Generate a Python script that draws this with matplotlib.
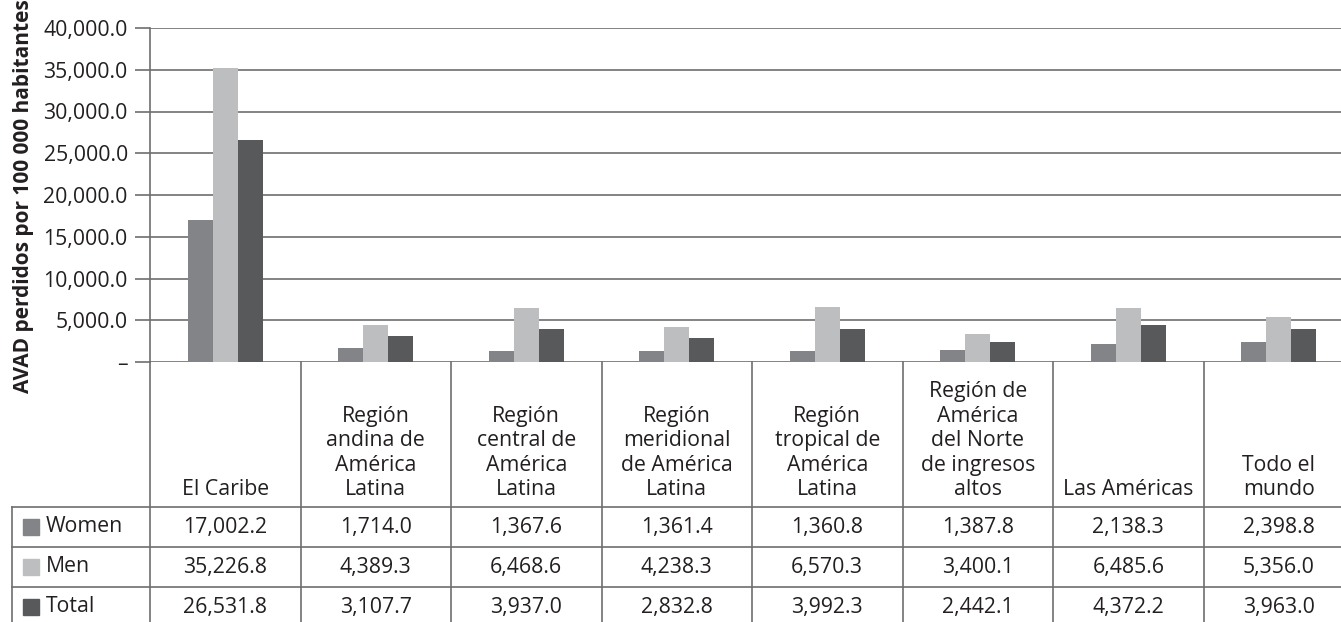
import matplotlib.pyplot as plt
import numpy as np

plt.rcParams['font.family'] = ['Open Sans', 'DejaVu Sans']

regiones = ['El Caribe',
            'Región\nandina de\nAmérica\nLatina',
            'Región\ncentral de\nAmérica\nLatina',
            'Región\nmeridional\nde América\nLatina',
            'Región\ntropical de\nAmérica\nLatina',
            'Región de\nAmérica\ndel Norte\nde ingresos\naltos',
            'Las Américas',
            'Todo el\nmundo']
series = ['Women', 'Men', 'Total']
women = [17002.2, 1714.0, 1367.6, 1361.4, 1360.8, 1387.8, 2138.3, 2398.8]
men = [35226.8, 4389.3, 6468.6, 4238.3, 6570.3, 3400.1, 6485.6, 5356.0]
total = [26531.8, 3107.7, 3937.0, 2832.8, 3992.3, 2442.1, 4372.2, 3963.0]
colores = ['#838487', '#bcbec0', '#58595b']
yticks = [0, 5000, 10000, 15000, 20000, 25000, 30000, 35000, 40000]

W, H = 1341, 622
linea = '#6e6e6e'
texto = '#231f20'
fs = 15.3

fig = plt.figure(figsize=(W / 100, H / 100), dpi=100)
ax = fig.add_axes([150 / W, (H - 362) / H, 1204 / W, 334 / H])

x = np.arange(len(regiones))
ancho = 0.166
for i, vals in enumerate([women, men, total]):
    ax.bar(x + (i - 1) * ancho, vals, ancho, color=colores[i], zorder=3)

ax.set_xlim(-0.5, len(regiones) - 0.5)
ax.set_ylim(0, 40000)
ax.set_yticks(yticks)
ax.set_yticklabels(['–' if v == 0 else f'{v:,.1f}' for v in yticks],
                   fontsize=fs, color=texto)
ax.tick_params(axis='y', length=11, width=1.2, color=linea, pad=5)
ax.set_xticks([])
ax.grid(axis='y', color=linea, linewidth=1.2, zorder=0)
for s in ['top', 'right', 'bottom']:
    ax.spines[s].set_visible(False)
ax.spines['left'].set_color(linea)
ax.spines['left'].set_linewidth(1.2)

fig.text(24 / W, (H - 196) / H, 'AVAD perdidos por 100 000 habitantes',
         rotation=90, ha='center', va='center', fontsize=15,
         fontweight='bold', color=texto)

# data table under the bars, one unit per row (40 px)
tab = fig.add_axes([150 / W, 0, 1204 / W, (H - 362) / H], sharex=ax)
tab.set_ylim(6.5, 0)
tab.axis('off')
cab = 3.625
izq = -0.5 - 138 / 150.5
for k in range(len(regiones) + 1):
    tab.plot([k - 0.5, k - 0.5], [0, 7], color=linea, lw=1.2, clip_on=False)
tab.plot([izq, izq], [cab, 7], color=linea, lw=1.2, clip_on=False)
for r in range(3):
    tab.plot([izq, 7.6], [cab + r, cab + r], color=linea, lw=1.2, clip_on=False)

for k, nombre in enumerate(regiones):
    tab.text(k, cab - 0.17, nombre, ha='center', va='bottom', fontsize=fs,
             color=texto, linespacing=1.22)

for r, (nombre, vals) in enumerate(zip(series, [women, men, total])):
    yc = cab + r + 0.5
    tab.add_patch(plt.Rectangle((izq + 11 / 150.5, yc - 0.2), 16 / 150.5, 0.4,
                                color=colores[r], clip_on=False))
    tab.text(izq + 34 / 150.5, yc, nombre, ha='left', va='center',
             fontsize=fs, color=texto)
    for k, v in enumerate(vals):
        tab.text(k, yc, f'{v:,.1f}', ha='center', va='center', fontsize=fs,
                 color=texto)

fig.savefig('out.png', dpi=100)
